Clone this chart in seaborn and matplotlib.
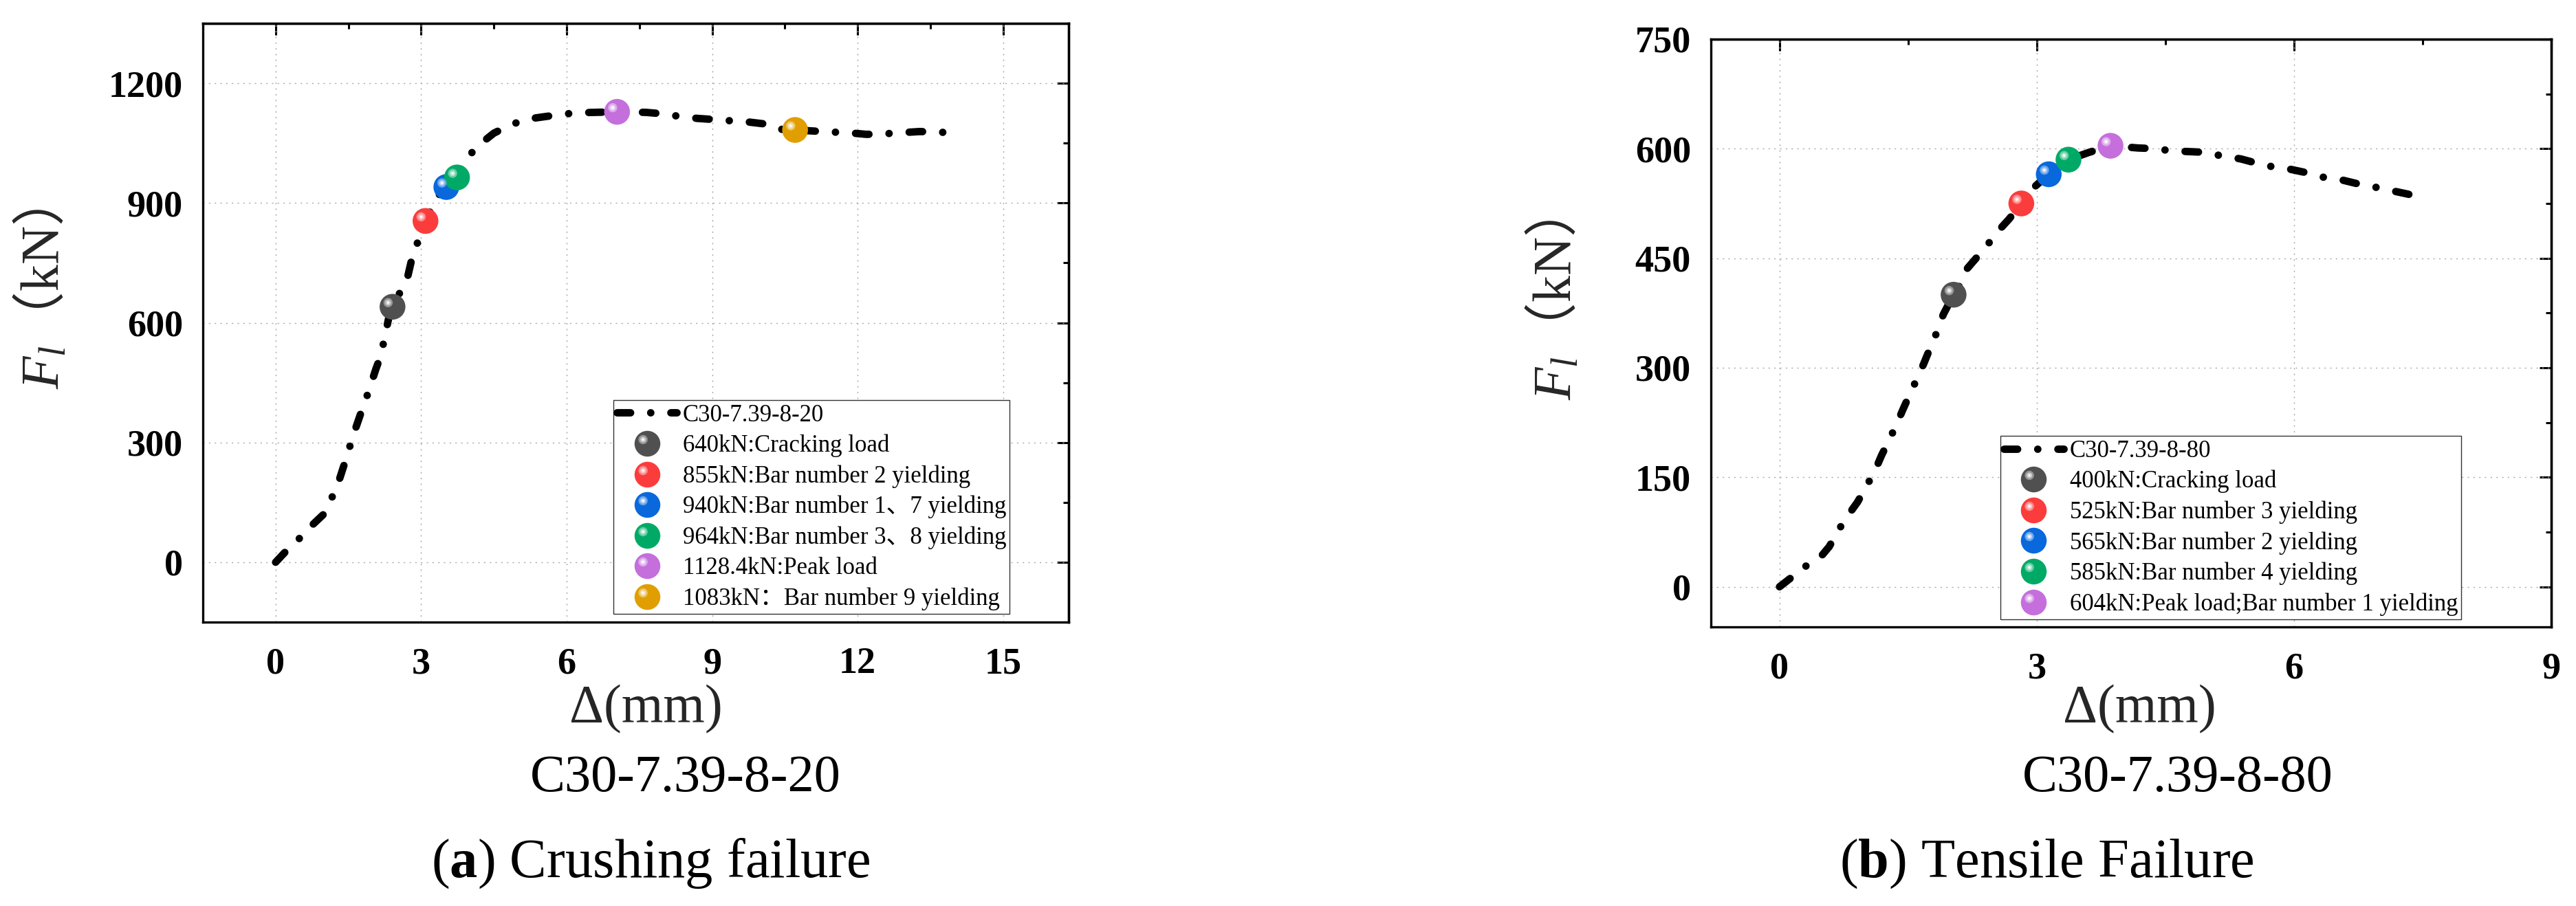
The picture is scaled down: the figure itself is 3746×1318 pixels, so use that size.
import numpy as np
import pandas as pd
import matplotlib
matplotlib.use("Agg")
import matplotlib.pyplot as plt
import matplotlib.colors as mcolors
import seaborn as sns
from matplotlib.path import Path
from matplotlib.markers import MarkerStyle
from matplotlib.lines import Line2D
from matplotlib.legend_handler import HandlerTuple
from matplotlib.ticker import MultipleLocator

# ---------------- data ----------------
left_name = "C30-7.39-8-20"
left_disp = [0, 0.27, 0.47, 0.71, 0.98, 1.15, 1.29, 1.42, 1.5, 1.6, 1.75, 1.83, 1.94, 2.07,
             2.18, 2.24, 2.35, 2.41, 2.56, 2.73, 2.81, 2.92, 3.03, 3.09, 3.35, 3.52, 3.74,
             3.96, 4.2, 4.5, 4.85, 5.18, 5.53, 5.89, 6.22, 7.04, 7.64, 8.02, 8.32, 8.69,
             9.05, 9.38, 9.74, 10.09, 10.36, 10.71, 11.13, 11.42, 11.81, 12.18, 12.51,
             12.87, 13.28, 13.58, 13.94]
left_load = [0, 35, 57, 88, 119, 159, 198, 247, 278, 318, 371, 397, 437, 485,
             521, 560, 622, 640, 675, 719, 761, 799, 829, 855, 918, 940, 964,
             1015, 1046, 1075, 1096, 1110, 1116, 1122, 1126, 1128.4, 1127, 1123, 1117, 1112,
             1109, 1106, 1103, 1098, 1085, 1083, 1080, 1078, 1076, 1072, 1073,
             1076, 1079, 1078, 1076]
left_event_disp = [2.41, 3.09, 3.52, 3.74, 7.04, 10.71]
left_event_load = [640, 855, 940, 964, 1128.4, 1083]
left_event_labels = ["640kN:Cracking load",
                     "855kN:Bar number 2 yielding",
                     "940kN:Bar number 1、7 yielding",
                     "964kN:Bar number 3、8 yielding",
                     "1128.4kN:Peak load",
                     "1083kN：Bar number 9 yielding"]
left_event_colors = ["#505050", "#fb3c3c", "#0868dc", "#00aa66", "#c46fdc", "#e09e00"]
left_xticks = [0, 3, 6, 9, 12, 15]
left_yticks = [0, 300, 600, 900, 1200]

right_name = "C30-7.39-8-80"
right_disp = [0, 0.12, 0.29, 0.48, 0.58, 0.69, 0.8, 0.91, 1.01, 1.11, 1.19, 1.27, 1.36,
              1.44, 1.52, 1.6, 1.68, 1.76, 1.84, 1.91, 2.03, 2.11, 2.19, 2.3, 2.43, 2.54,
              2.68, 2.82, 2.88, 3.14, 3.37, 3.61, 3.86, 4.18, 4.39, 4.57, 4.78, 4.97, 5.16,
              5.38, 5.57, 5.76, 5.95, 6.15, 6.34, 6.53, 6.74, 6.92, 7.12, 7.32, 7.5]
right_load = [0, 11, 27, 41, 55, 78, 98, 116, 137, 158, 180, 199, 221,
              243, 264, 284, 305, 328, 350, 373, 400, 414, 436, 451, 469, 486,
              504, 525, 538, 565, 585, 595, 604, 601, 600, 597, 596, 595, 590,
              586, 580, 575, 572, 567, 561, 558, 552, 548, 543, 538, 533]
right_event_disp = [2.03, 2.82, 3.14, 3.37, 3.86]
right_event_load = [400, 525, 565, 585, 604]
right_event_labels = ["400kN:Cracking load",
                      "525kN:Bar number 3 yielding",
                      "565kN:Bar number 2 yielding",
                      "585kN:Bar number 4 yielding",
                      "604kN:Peak load;Bar number 1 yielding"]
right_event_colors = ["#505050", "#fb3c3c", "#0868dc", "#00aa66", "#c46fdc"]
right_xticks = [0, 3, 6, 9]
right_yticks = [0, 150, 300, 450, 600, 750]

x_label = "Δ(mm)"
y_label = r"$F_l$$\mathsf{（}$kN$\mathsf{）}$"
titles = [r"($\mathbf{a}$) Crushing failure", r"($\mathbf{b}$) Tensile Failure"]

# ---------------- style ----------------
sns.set_theme(style="white")
plt.rcParams["font.family"] = ["Liberation Serif", "Noto Sans CJK SC"]
plt.rcParams.update({
    "mathtext.fontset": "custom",
    "mathtext.rm": "Liberation Serif",
    "mathtext.it": "Liberation Serif:italic",
    "mathtext.bf": "Liberation Serif:bold",
    "mathtext.sf": "Noto Sans CJK SC",
    "axes.edgecolor": "black",
    "xtick.color": "black",
    "ytick.color": "black",
    "text.color": "black",
})

W, H = 3746, 1318
fig = plt.figure(figsize=(W / 100, H / 100), dpi=100)
fig.patch.set_facecolor("white")


def frac_rect(x0, y0, x1, y1):
    return [x0 / W, 1 - y1 / H, (x1 - x0) / W, (y1 - y0) / H]


ax_l = fig.add_axes(frac_rect(295, 34, 1554, 905))
ax_r = fig.add_axes(frac_rect(2488, 57, 3710, 912))

MS = 27.0  # ball diameter in points


def circ(cx, cy, r):
    c = Path.circle((cx, cy), r)
    dummy = Path([[0.5, 0.5], [-0.5, -0.5]], [Path.MOVETO, Path.MOVETO])
    return MarkerStyle(Path.make_compound_path(dummy, c))


hl_outer = circ(-0.17, 0.16, 0.18)
hl_mid = circ(-0.17, 0.16, 0.11)
hl_core = circ(-0.17, 0.16, 0.045)
HL = [(hl_outer, 0.4), (hl_mid, 0.7), (hl_core, 1.0)]


def mix(c, f):
    r = np.array(mcolors.to_rgb(c))
    return tuple(r + (1 - r) * f)


def draw_panel(ax, disp, load, name, ex, ey, elabels, ecolors, xlim, ylim,
               xticks, yticks, xminor, yminor, leg_anchor, xlabel_pos, ylabel_pos):
    ax.set_facecolor("white")
    sns.lineplot(x=disp, y=load, ax=ax, color="black", linewidth=7.8,
                 linestyle=(0, (1.8, 2.7, 0.01, 2.7)), dash_capstyle="round",
                 sort=False, estimator=None, legend=False, zorder=2)
    line = ax.lines[-1]
    pal = dict(zip(elabels, ecolors))
    sns.scatterplot(x=ex, y=ey, hue=elabels, palette=pal, s=MS ** 2, linewidth=0,
                    legend=False, ax=ax, zorder=3)
    for mk, f in HL:
        ax.scatter(ex, ey, s=MS ** 2, marker=mk, c=[mix(c, f) for c in ecolors],
                   linewidths=0, zorder=4)

    ax.set_xlim(*xlim)
    ax.set_ylim(*ylim)
    ax.set_xticks(xticks, [str(v) for v in xticks])
    ax.set_yticks(yticks, [str(v) for v in yticks])
    ax.xaxis.set_minor_locator(MultipleLocator(xminor))
    ax.yaxis.set_minor_locator(MultipleLocator(yminor))
    ax.tick_params(which="both", direction="out", top=False, right=False,
                   width=2.2, labelsize=39)
    ax.tick_params(axis="x", which="major", pad=14)
    ax.tick_params(axis="y", which="major", pad=9)
    ax.tick_params(which="major", length=12)
    ax.tick_params(which="minor", length=6)
    for s in ax.spines.values():
        s.set_linewidth(2.4)
        s.set_color("black")
        s.set_visible(True)
    ax.grid(True, which="major", color="#a8a8a8", linestyle=(0, (1.5, 4.5)), linewidth=1.0)
    ax.set_axisbelow(True)

    sx = ax.secondary_xaxis("top")
    sx.set_xticks(xticks)
    sx.xaxis.set_minor_locator(MultipleLocator(xminor))
    sx.tick_params(which="both", direction="in", labeltop=False, width=2.2)
    sx.tick_params(which="major", length=12)
    sx.tick_params(which="minor", length=6)
    sx.spines["top"].set_linewidth(2.4)
    sy = ax.secondary_yaxis("right")
    sy.set_yticks(yticks)
    sy.yaxis.set_minor_locator(MultipleLocator(yminor))
    sy.tick_params(which="both", direction="in", labelright=False, width=2.2)
    sy.tick_params(which="major", length=12)
    sy.tick_params(which="minor", length=6)
    sy.spines["right"].set_linewidth(2.4)

    ax.set_xlabel(x_label, fontsize=56, va="baseline")
    ax.xaxis.set_label_coords(*xlabel_pos)
    ax.set_ylabel(y_label, fontsize=56, va="center", ha="center")
    ax.yaxis.set_label_coords(*ylabel_pos)

    handles = [line]
    for c in ecolors:
        base = Line2D([], [], marker="o", markersize=MS, markerfacecolor=c,
                      markeredgewidth=0, linestyle="none")
        parts = [base]
        for mk, f in HL:
            parts.append(Line2D([], [], marker=mk, markersize=MS, markerfacecolor=mix(c, f),
                                markeredgewidth=0, linestyle="none"))
        handles.append(tuple(parts))
    leg = ax.legend(handles, [name] + list(elabels), loc="lower right",
                    bbox_to_anchor=leg_anchor, borderaxespad=0, borderpad=0.15,
                    handlelength=2.5, handletextpad=0.25, labelspacing=0.32,
                    fontsize=25, frameon=True, fancybox=False, framealpha=1,
                    handler_map={tuple: HandlerTuple(ndivide=1, pad=0)})
    leg.get_frame().set_linewidth(1.0)
    leg.get_frame().set_edgecolor("#333333")
    leg.set_zorder(6)

    for lbl in ax.get_xticklabels() + ax.get_yticklabels():
        lbl.set_fontweight("bold")
        lbl.set_fontsize(39)


draw_panel(ax_l, left_disp, left_load, left_name, left_event_disp, left_event_load,
           left_event_labels, left_event_colors, (-1.5, 16.35), (-150, 1350),
           left_xticks, left_yticks, 1.5, 150, (0.932, 0.0138),
           (0.512, -0.1665), (-0.186, 0.54))
draw_panel(ax_r, right_disp, right_load, right_name, right_event_disp, right_event_load,
           right_event_labels, right_event_colors, (-0.8, 9.0), (-55, 750),
           right_xticks, right_yticks, 1.5, 75, (0.893, 0.0129),
           (0.51, -0.1614), (-0.1866, 0.54))

fig.text(997 / W, 1 - 1151 / H, left_name, ha="center", va="baseline", fontsize=55)
fig.text(3167 / W, 1 - 1151 / H, right_name, ha="center", va="baseline", fontsize=55)
fig.text(946 / W, 1 - 1276 / H, titles[0], ha="center", va="baseline", fontsize=58)
fig.text(2976 / W, 1 - 1276 / H, titles[1], ha="center", va="baseline", fontsize=58)

fig.savefig("out.png", dpi=100, facecolor="white")
